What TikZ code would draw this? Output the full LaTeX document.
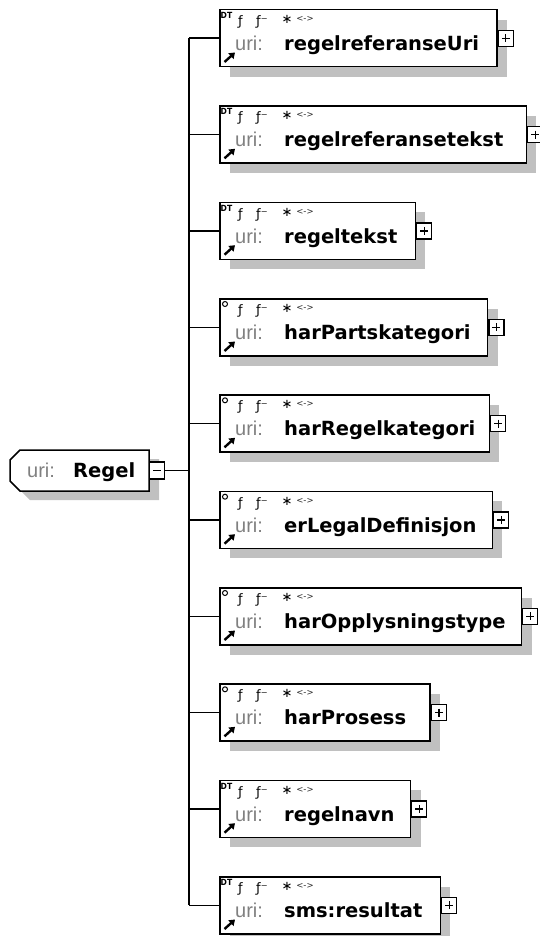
\documentclass[tikz,border=0pt]{standalone}
\usepackage{fontspec}
\setmainfont{DejaVu Sans}
\newfontfamily\urifamily{Liberation Sans}
\newfontfamily\condfamily{DejaVu Sans Condensed}
\usetikzlibrary{arrows.meta,shadows,calc}

\definecolor{shadowgray}{RGB}{192,192,192}
\definecolor{urigray}{RGB}{128,128,128}

\pgfdeclarelayer{boxes}
\pgfsetlayers{boxes,main}

\newcommand\elemfont{\fontsize{19.5}{20}\selectfont\bfseries}
\newcommand\urifont{\urifamily\fontsize{20}{20}\selectfont}
\newcommand\facetfont{\fontsize{13}{13}\selectfont}

\tikzset{
  elembox/.style={draw=black, line width=1.5pt, fill=white, inner sep=0pt,
    anchor=north west, minimum height=57pt,
    drop shadow={shadow xshift=10pt, shadow yshift=-10pt, fill=shadowgray, opacity=1}},
  textlabel/.style={inner sep=0pt, anchor=base west},
  expander/.style={draw=black, line width=1.2pt, fill=white, minimum width=15pt,
    minimum height=16pt, inner sep=0pt, anchor=west},
  link/.style={draw=black, line width=1.5pt},
  facet/.style={inner sep=0pt, anchor=base west, font=\facetfont},
}

% one child element: #1 node name, #2 top edge, #3 element name,
% #4 = 1 for an optional element (circle marker), 0 for a DT element,
% #5 space between the name and the right edge of the box
\newcommand\childelem[5]{%
  \node[textlabel, font=\urifont, text=urigray] (#1-uri) at (235,#2+41.5) {uri:};
  \node[textlabel, font=\elemfont] (#1-name) at (284,#2+41.5) {#3};
  \begin{pgfonlayer}{boxes}
    \path let \p1 = (#1-name.east) in
      node[elembox, minimum width={\x1-219pt+#5pt}] (#1) at (219,#2) {};
  \end{pgfonlayer}
  \node[expander] (#1-plus) at (#1.east) {};
  \draw[line width=1.2pt]
    ($(#1-plus.center)+(-4,0)$) -- ($(#1-plus.center)+(4,0)$)
    ($(#1-plus.center)+(0,-4)$) -- ($(#1-plus.center)+(0,4)$);
  \ifnum#4=1
    \draw[line width=1pt] (225,#2+6) circle[radius=2.5pt];
  \else
    \node[inner sep=0pt, anchor=north west,
      font=\condfamily\bfseries\fontsize{8.5}{8.5}\selectfont] (#1-dt) at (220.5,#2+3) {DT};
  \fi
  \node[facet] (#1-fixed) at (238,#2+16.5) {ƒ};
  \node[facet] (#1-default) at (256,#2+16.5) {ƒ⁻};
  \node[inner sep=0pt, font=\facetfont] (#1-many) at (287,#2+10.5) {∗};
  \node[inner sep=0pt, font=\fontsize{8.5}{8.5}\selectfont, text=black!85] (#1-ref) at (305,#2+10) {<->};
  \draw[line width=2.4pt, -{Triangle[length=5.5pt,width=7.5pt]}] (224.5,#2+53) -- (235,#2+43.5);
}

\begin{document}
\begin{tikzpicture}[x=1pt, y=-1pt]
  \useasboundingbox (0,0) rectangle (540,936);

  % root element
  \node[inner sep=0pt, minimum width=139pt, minimum height=41pt] (root) at (79.5,470.5) {};
  \fill[shadowgray, shift={(10,9)}]
    (149,450) -- (20,450) -- (10,460) -- (10,481) -- (20,491) -- (149,491) -- cycle;
  \draw[fill=white, line width=1.5pt]
    (149,450) -- (20,450) -- (10,460) -- (10,481) -- (20,491) -- (149,491) -- cycle;
  \node[textlabel, font=\urifont, text=urigray] (root-uri) at (27,477) {uri:};
  \node[textlabel, font=\elemfont] (root-name) at (73,477) {Regel};
  \node[expander, minimum height=17pt] (root-minus) at (root.east) {};
  \draw[line width=1.2pt] ($(root-minus.center)+(-4,0)$) -- ($(root-minus.center)+(4,0)$);

  % sequence of child elements
  \childelem{e1}{9}{regelreferanseUri}{0}{17}
  \childelem{e2}{105.3}{regelreferansetekst}{0}{22}
  \childelem{e3}{201.7}{regeltekst}{0}{17}
  \childelem{e4}{298}{harPartskategori}{1}{16}
  \childelem{e5}{394.3}{harRegelkategori}{1}{13}
  \childelem{e6}{490.7}{erLegalDefinisjon}{1}{15}
  \childelem{e7}{587}{harOpplysningstype}{1}{15}
  \childelem{e8}{683.3}{harProsess}{1}{23}
  \childelem{e9}{779.7}{regelnavn}{0}{15}
  \childelem{e10}{876}{sms:resultat}{0}{17}

  % connectors
  \coordinate (fork) at (189,470.5);
  \draw[link] (root-minus.east) -- (fork);
  \draw[link] (fork |- e1.west) -- (fork |- e10.west);
  \foreach \e in {e1,e2,e3,e4,e5,e6,e7,e8,e9,e10}
    \draw[link] (fork |- \e.west) -- (\e.west);
\end{tikzpicture}
\end{document}
